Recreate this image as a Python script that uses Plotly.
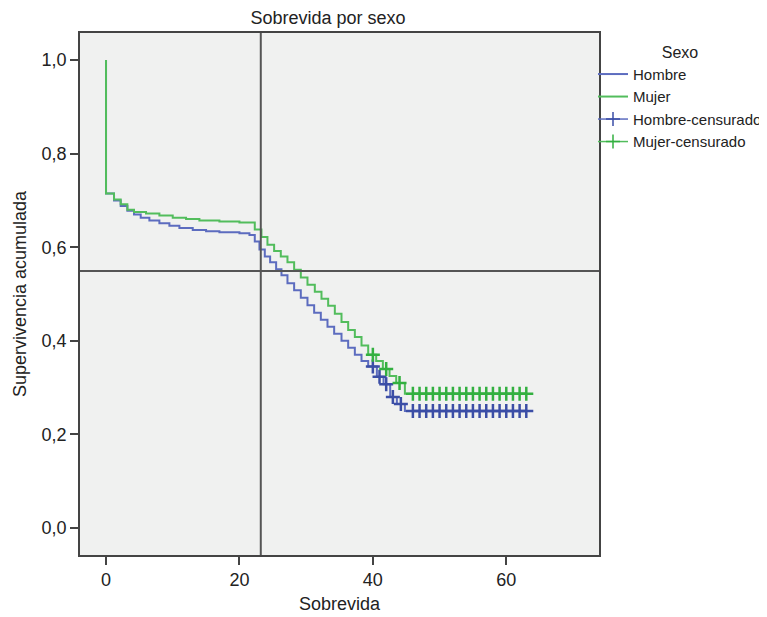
import plotly.graph_objects as go

# Hombre (male) Kaplan-Meier steps
hombre_t = [0, 0, 1.2, 2.2, 3.2, 4.2, 5.2, 6.5, 8, 9.5, 11, 13, 15, 17, 20, 21.5,
            22.3, 23.0, 23.8, 24.6, 25.5, 26.3, 27.2, 28.2, 29.2, 30.2, 31.2, 32.2,
            33.2, 34.2, 35.3, 36.3, 37.3, 38.3, 39.3, 40.6, 41.6, 42.6, 43.6, 44.8, 63]
hombre_s = [1.0, 0.715, 0.700, 0.688, 0.678, 0.670, 0.663, 0.657, 0.651, 0.646, 0.641,
            0.637, 0.634, 0.632, 0.630, 0.626, 0.612, 0.595, 0.580, 0.568, 0.553, 0.540,
            0.523, 0.508, 0.492, 0.476, 0.460, 0.445, 0.430, 0.415, 0.400, 0.385, 0.370,
            0.357, 0.345, 0.323, 0.307, 0.280, 0.265, 0.250, 0.250]

# Mujer (female) Kaplan-Meier steps
mujer_t = [0, 0, 1.2, 2.2, 3.2, 4.2, 6, 8, 10, 12, 14, 17, 20, 22.3, 23.3, 24.2, 25.2,
           26.2, 27.2, 28.2, 29.2, 30.2, 31.3, 32.3, 33.3, 34.3, 35.3, 36.3, 37.3, 38.3,
           39.3, 40.5, 41.5, 42.5, 43.5, 44.8, 63]
mujer_s = [1.0, 0.715, 0.702, 0.692, 0.680, 0.675, 0.672, 0.668, 0.663, 0.660, 0.657,
           0.655, 0.653, 0.638, 0.622, 0.605, 0.592, 0.580, 0.568, 0.552, 0.535, 0.520,
           0.505, 0.490, 0.475, 0.458, 0.440, 0.423, 0.408, 0.390, 0.370, 0.357, 0.340,
           0.325, 0.310, 0.287, 0.287]

# Censored observations
hombre_cens_t = [40, 41, 42, 43, 44.2] + list(range(46, 64))
hombre_cens_s = [0.345, 0.323, 0.307, 0.280, 0.265] + [0.250] * 18
mujer_cens_t = [40, 42, 44] + list(range(46, 64))
mujer_cens_s = [0.370, 0.340, 0.310] + [0.287] * 18

x_ticks = [0, 20, 40, 60]
y_ticks = [0, 0.2, 0.4, 0.6, 0.8, 1.0]

ref_x = 23.2
ref_y = 0.549

blue_line = "#5c6cbf"
green_line = "#52bd5c"
blue_mark = "#3b4ea6"
green_mark = "#33b040"

FONT = "Liberation Sans, Arial, Helvetica, sans-serif"
W, H = 759, 609  # page body has an 8px margin

fig = go.Figure()
fig.add_trace(go.Scatter(x=hombre_t, y=hombre_s, mode="lines", name="Hombre",
                         line=dict(color=blue_line, width=2, shape="hv")))
fig.add_trace(go.Scatter(x=mujer_t, y=mujer_s, mode="lines", name="Mujer",
                         line=dict(color=green_line, width=2, shape="hv")))
fig.add_trace(go.Scatter(x=hombre_cens_t, y=hombre_cens_s, mode="markers", showlegend=False,
                         marker=dict(symbol="cross-thin", size=10,
                                     line=dict(color=blue_mark, width=2.5))))
fig.add_trace(go.Scatter(x=mujer_cens_t, y=mujer_cens_s, mode="markers", showlegend=False,
                         marker=dict(symbol="cross-thin", size=10,
                                     line=dict(color=green_mark, width=2.5))))
# legend entries for censored
fig.add_trace(go.Scatter(x=[None], y=[None], mode="lines+markers", name="Hombre-censurado",
                         line=dict(color=blue_line, width=1.5),
                         marker=dict(symbol="cross-thin", size=10,
                                     line=dict(color=blue_mark, width=1.5))))
fig.add_trace(go.Scatter(x=[None], y=[None], mode="lines+markers", name="Mujer-censurado",
                         line=dict(color=green_line, width=1.5),
                         marker=dict(symbol="cross-thin", size=10,
                                     line=dict(color=green_mark, width=1.5))))

fig.add_shape(type="line", xref="x", yref="paper", x0=ref_x, x1=ref_x, y0=0, y1=1,
              line=dict(color="#555555", width=2))
fig.add_shape(type="line", xref="paper", yref="y", x0=0, x1=1, y0=ref_y, y1=ref_y,
              line=dict(color="#555555", width=2))

fig.update_layout(
    width=W, height=H,
    margin=dict(l=72, r=168, t=25, b=62, autoexpand=False),
    paper_bgcolor="white",
    plot_bgcolor="#f0f1f0",
    separators=",.",
    font=dict(family=FONT, size=18, color="#222222"),
    title=dict(text="Sobrevida por sexo", x=320 / W, xanchor="center",
               y=1 - 10 / H, yanchor="middle", font=dict(size=18)),
    legend=dict(xref="container", yref="container",
                x=585 / W, xanchor="left", y=1 - 29 / H, yanchor="top",
                title=dict(text="Sexo", side="top center", font=dict(size=16)),
                font=dict(size=15), bgcolor="rgba(0,0,0,0)",
                tracegroupgap=0, itemwidth=30),
    xaxis=dict(range=[-3.9, 73.9], tickvals=x_ticks, ticks="outside", ticklen=8,
               tickcolor="#444444", tickwidth=1.5, automargin=False,
               showline=True, mirror=True, linecolor="#444444", linewidth=1.5,
               showgrid=False, zeroline=False,
               title=dict(text="Sobrevida", font=dict(size=18), standoff=8)),
    yaxis=dict(range=[-0.0577, 1.0577], tickvals=y_ticks,
               tickformat=".1f", ticks="outside", ticklen=8,
               tickcolor="#444444", tickwidth=1.5, automargin=False,
               showline=True, mirror=True, linecolor="#444444", linewidth=1.5,
               showgrid=False, zeroline=False,
               title=dict(text="Supervivencia acumulada", font=dict(size=18), standoff=10)),
)

fig.write_html("out.html")
